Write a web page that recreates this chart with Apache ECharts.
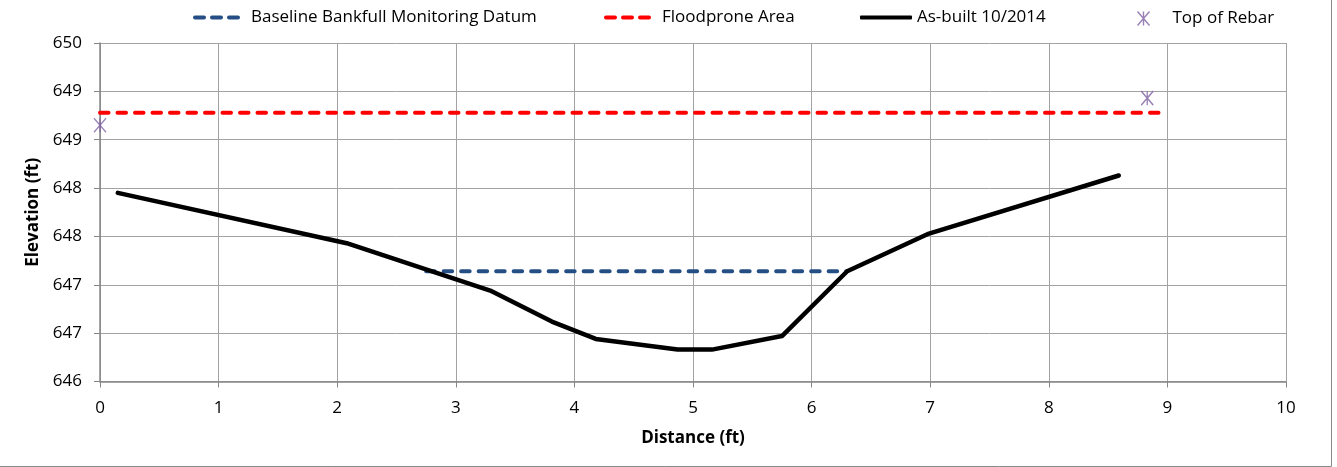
<!DOCTYPE html>
<html>
<head>
<meta charset="utf-8">
<script src="https://cdn.jsdelivr.net/npm/echarts@6/dist/echarts.min.js"></script>
<style>
html,body{margin:0;padding:0;background:#fff;}
#c{width:1337px;height:467px;}
</style>
</head>
<body>
<div id="c"></div>
<script>
// ---- data ----
const asBuiltX = [0.15, 2.08, 3.29, 3.81, 4.18, 4.87, 5.16, 5.75, 6.30, 6.99, 8.59];
const asBuiltY = [647.95, 647.43, 646.94, 646.62, 646.44, 646.33, 646.33, 646.47, 647.14, 647.53, 648.13];
const bankfullX = [2.75, 6.30];
const bankfullY = [647.14, 647.14];
const floodX = [0, 9.0];
const floodY = [648.78, 648.78];
const rebarX = [0, 8.83];
const rebarY = [648.65, 648.93];
const seriesNames = ['Baseline Bankfull Monitoring Datum', 'Floodprone Area', 'As-built 10/2014', 'Top of Rebar'];

const zip = (xs, ys) => xs.map((x, i) => [x, ys[i]]);
const FONT = '"Open Sans", "Noto Sans", sans-serif';
const FS = 17;
const gridColor = '#A3A3A3';
const axisColor = '#868686';
const BLUE = '#254F84', RED = '#FF0000', PURPLE = '#7F62A1';

const chart = echarts.init(document.getElementById('c'), null, {renderer: 'canvas'});

const dashIcon = 'path://M2,0h9a2,2 0 0 1 0,4h-9a2,2 0 0 1 0,-4z M19,0h9a2,2 0 0 1 0,4h-9a2,2 0 0 1 0,-4z M36,0h9a2,2 0 0 1 0,4h-9a2,2 0 0 1 0,-4z';
const asterisk = 'path://M0,0L12,14M12,0L0,14M6,0L6,14';

function mkLegend(item, left, w, h, padLeft) {
  return {
    data: [item], left: left, top: 9, itemWidth: w, itemHeight: h, itemGap: 0,
    textStyle: {fontFamily: FONT, fontSize: FS, color: '#000', padding: [0, 0, 0, padLeft]},
    padding: 0, selectedMode: false
  };
}

chart.setOption({
  animation: false,
  backgroundColor: '#fff',
  graphic: [{
    type: 'rect', shape: {x: -1, y: -1, width: 1332.5, height: 467.5},
    style: {fill: 'none', stroke: '#8A8A8A', lineWidth: 1}, silent: true, z: -1
  }],
  legend: [
    mkLegend({name: seriesNames[0], icon: dashIcon, itemStyle: {color: BLUE}}, 193, 47, 4, 6),
    mkLegend({name: seriesNames[1], icon: dashIcon, itemStyle: {color: RED}}, 604, 47, 4, 6),
    mkLegend({name: seriesNames[2], icon: 'roundRect', itemStyle: {color: '#000'}}, 860, 52, 4, 0),
    mkLegend({name: seriesNames[3], icon: asterisk,
      itemStyle: {color: 'none', borderColor: PURPLE, borderWidth: 1.4}}, 1135, 12, 14, 18)
  ],
  grid: {left: 100, top: 43, right: 51, bottom: 85.5, containLabel: false},
  xAxis: {
    type: 'value', min: 0, max: 10, interval: 1,
    name: 'Distance (ft)', nameLocation: 'middle', nameGap: 48,
    nameTextStyle: {fontFamily: FONT, fontSize: FS, fontWeight: 'bold', color: '#000'},
    axisLine: {show: true, onZero: false, lineStyle: {color: axisColor, width: 1.5}},
    axisTick: {show: true, length: 6, lineStyle: {color: axisColor, width: 1}},
    axisLabel: {fontFamily: FONT, fontSize: FS, color: '#000', margin: 18},
    splitLine: {show: true, lineStyle: {color: gridColor, width: 1}}
  },
  yAxis: {
    type: 'value', min: 646, max: 649.5, interval: 0.5,
    name: 'Elevation (ft)', nameLocation: 'middle', nameGap: 51, nameRotate: 90,
    nameTextStyle: {fontFamily: FONT, fontSize: FS, fontWeight: 'bold', color: '#000'},
    axisLine: {show: true, lineStyle: {color: axisColor, width: 1.5}},
    axisTick: {show: true, length: 6, lineStyle: {color: axisColor, width: 1}},
    axisLabel: {fontFamily: FONT, fontSize: FS, color: '#000', margin: 18,
      formatter: v => String(Math.round(v))},
    splitLine: {show: true, lineStyle: {color: gridColor, width: 1}}
  },
  series: [
    {
      name: seriesNames[0], type: 'line', data: zip(bankfullX, bankfullY),
      symbol: 'none', showSymbol: false,
      lineStyle: {color: BLUE, width: 4, type: [8.5, 9], cap: 'round'},
      itemStyle: {color: BLUE}, z: 3
    },
    {
      name: seriesNames[1], type: 'line', data: zip(floodX, floodY),
      symbol: 'none', showSymbol: false,
      lineStyle: {color: RED, width: 4, type: [8.5, 9], cap: 'round'},
      itemStyle: {color: RED}, z: 3
    },
    {
      name: seriesNames[2], type: 'line', data: zip(asBuiltX, asBuiltY),
      symbol: 'none', showSymbol: false,
      lineStyle: {color: '#000', width: 4.5, cap: 'round', join: 'round'},
      itemStyle: {color: '#000'}, z: 4
    },
    {
      name: seriesNames[3], type: 'scatter', data: zip(rebarX, rebarY),
      symbol: asterisk, symbolSize: [12, 14], symbolKeepAspect: false,
      itemStyle: {color: 'none', borderColor: PURPLE, borderWidth: 1.4}, z: 5
    }
  ]
});
</script>
</body>
</html>
